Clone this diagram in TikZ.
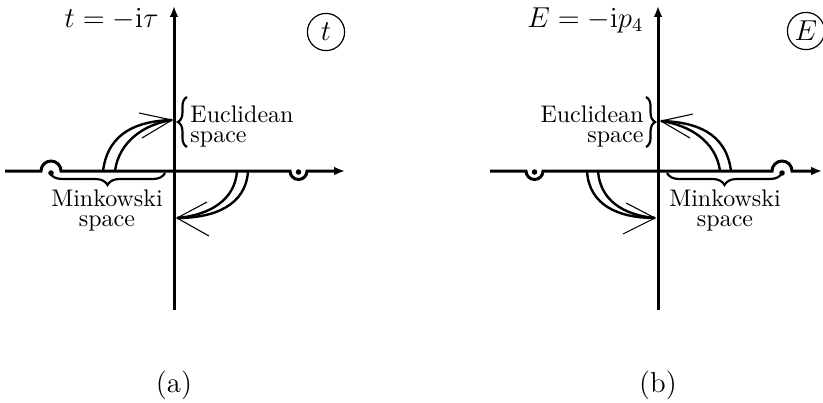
\documentclass[tikz,border=0pt]{standalone}
\usetikzlibrary{arrows.meta,decorations.pathreplacing}
\begin{document}
\begin{tikzpicture}[x=0.4167pt,y=-0.4167pt,
  axis/.style={line width=1.25pt},
  axisarrow/.style={-{Latex[length=4.5pt,width=3.6pt]}},
  flow/.style={line width=1pt},
  barb/.style={line width=0.45pt},
  brc/.style={decorate,decoration={brace,amplitude=#1},line width=0.9pt},
  pole/.style={circle,fill,inner sep=0pt,minimum size=2.3pt},
  lbl/.style={inner sep=0pt,font=\fontsize{10pt}{8.5pt}\selectfont},
  circ/.style={circle,draw,line width=0.5pt,inner sep=0pt,minimum size=15.5pt,font=\large},
  captxt/.style={font=\large}]
\useasboundingbox (0,0) rectangle (823,402);
% ---------- panel (a) ----------
\draw[axis,axisarrow] (5,171) -- (41,171) arc[start angle=180,end angle=360,radius=10]
  -- (290,171) arc[start angle=180,end angle=0,radius=8.5] -- (345,171);
\draw[axis,axisarrow] (174,310) -- (174,6);
\node[pole] (pa1) at (51,173) {};
\node[pole] (pa2) at (298.5,172) {};
\coordinate (ta) at (172,120);
\coordinate (tb) at (177,218);
\draw[flow] (103,171) .. controls (108,132) and (138,121) .. (ta);
\draw[flow] (115,171) .. controls (119,141) and (145,124) .. (ta);
\draw[barb] (139,113) -- (ta) -- (142,138);
\draw[flow] (248,171) .. controls (246,205) and (215,218) .. (tb);
\draw[flow] (237,171) .. controls (235,200) and (210,215) .. (tb);
\draw[barb] (207,202) -- (tb) -- (209,236);
\draw[brc=5pt] (165,173) -- (50,173);
\draw[brc=3.8pt] (187,147) -- (187,97);
\node[lbl,align=center,anchor=north] (ma) at (107,189) {Minkowski\\space};
\node[lbl,align=left,anchor=north west] (ea) at (190,105) {Euclidean\\space};
\node[captxt,anchor=base east,inner sep=0pt] (la) at (159,27) {$t=-\mathrm{i}\tau$};
\node[circ] (ca) at (326,32) {$t$};
\node[captxt] (capa) at (174,385) {(a)};
% ---------- panel (b) ----------
\draw[axis,axisarrow] (490,171) -- (526,171) arc[start angle=180,end angle=0,radius=8.5]
  -- (772,171) arc[start angle=180,end angle=360,radius=10] -- (822,171);
\draw[axis,axisarrow] (658,310) -- (658,6);
\node[pole] (pb1) at (534.5,172) {};
\node[pole] (pb2) at (782,173) {};
\coordinate (tc) at (661,121);
\coordinate (td) at (655,218);
\draw[flow] (731,171) .. controls (726,132) and (695,122) .. (tc);
\draw[flow] (720,171) .. controls (716,141) and (689,125) .. (tc);
\draw[barb] (693,114) -- (tc) -- (690,138);
\draw[flow] (587,171) .. controls (589,205) and (618,218) .. (td);
\draw[flow] (598,171) .. controls (600,200) and (623,215) .. (td);
\draw[barb] (626,203) -- (td) -- (623,234);
\draw[brc=5pt] (782,173) -- (667,173);
\draw[brc=3.8pt] (646,97) -- (646,147);
\node[lbl,align=center,anchor=north] (mb) at (725,189) {Minkowski\\space};
\node[lbl,align=right,anchor=north east] (eb) at (644,105) {Euclidean\\space};
\node[captxt,anchor=base east,inner sep=0pt] (lb) at (644,27) {$E=-\mathrm{i}p_4$};
\node[circ] (cb) at (806,31) {$E$};
\node[captxt] (capb) at (658,385) {(b)};
\end{tikzpicture}
\end{document}
